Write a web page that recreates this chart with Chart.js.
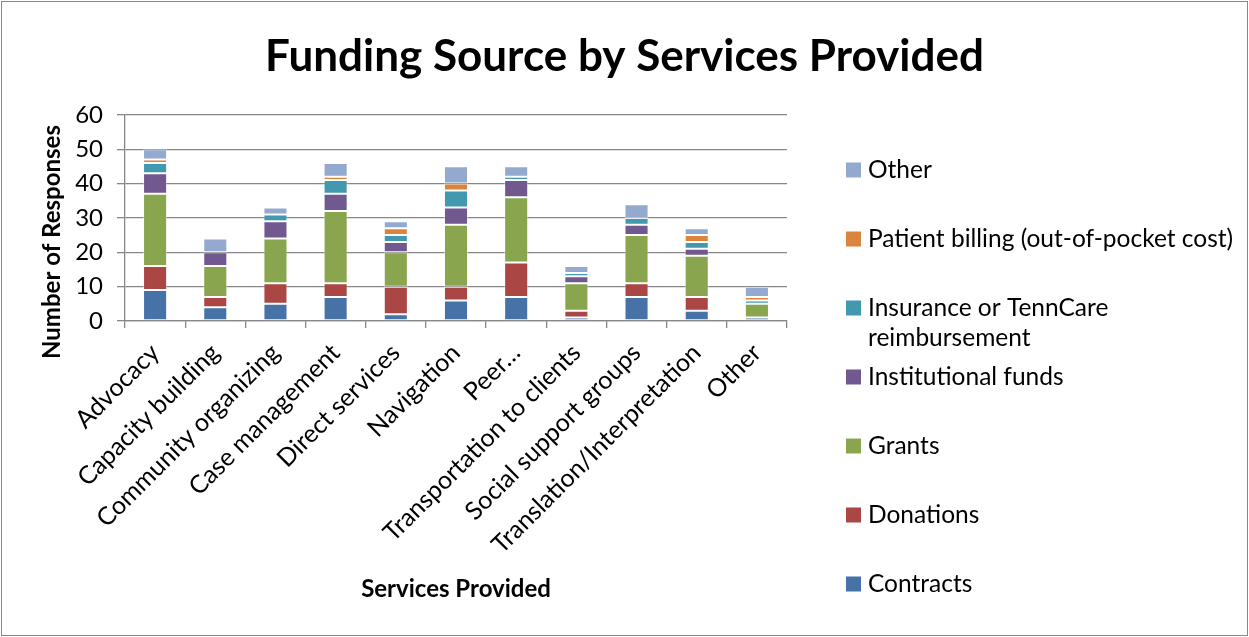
<!DOCTYPE html>
<html>
<head>
<meta charset="utf-8">
<script src="https://cdn.jsdelivr.net/npm/chart.js@4.4.1/dist/chart.umd.min.js"></script>
<style>
  html, body { margin: 0; padding: 0; background: #fff; }
  #wrap { width: 1249px; height: 637px; position: relative; }
  canvas { display: block; }
</style>
</head>
<body>
<div id="wrap"><canvas id="chart" width="1249" height="637"></canvas></div>
<script>
// Services (x categories)
const services = [
  'Advocacy', 'Capacity building', 'Community organizing', 'Case management',
  'Direct services', 'Navigation', 'Peer\u2026', 'Transportation to clients',
  'Social support groups', 'Translation/Interpretation', 'Other'
];

// Number of responses per funding source, stacked bottom to top
const contracts      = [9, 4, 5, 7, 2, 6, 7, 1, 7, 3, 1];
const donations      = [7, 3, 6, 4, 8, 4, 10, 2, 4, 4, 0];
const grants         = [21, 9, 13, 21, 10, 18, 19, 8, 14, 12, 4];
const institutional  = [6, 4, 5, 5, 3, 5, 5, 2, 3, 2, 0];
const insurance      = [3, 0, 2, 4, 2, 5, 1, 1, 2, 2, 1];
const patientBilling = [1, 0, 0, 1, 2, 2, 0, 0, 0, 2, 1];
const otherFunding   = [3, 4, 2, 4, 2, 5, 3, 2, 4, 2, 3];

// Y axis range
const yMin = 0, yMax = 60, yStep = 10;

const FONT = 'Lato, "Open Sans", sans-serif';
const GRID = '#878787';
const yTitleText = 'Number of Responses';

const series = [
  { label: 'Contracts', data: contracts, color: '#4672A8' },
  { label: 'Donations', data: donations, color: '#AA4643' },
  { label: 'Grants', data: grants, color: '#89A54E' },
  { label: 'Institutional funds', data: institutional, color: '#71588F' },
  { label: 'Insurance or TennCare reimbursement', data: insurance, color: '#4198AF' },
  { label: 'Patient billing (out-of-pocket cost)', data: patientBilling, color: '#DB843D' },
  { label: 'Other', data: otherFunding, color: '#93A9CF' }
];

// Page background and outer frame
const frame = {
  id: 'frame',
  beforeDraw(chart) {
    const { ctx, width, height } = chart;
    ctx.save();
    ctx.fillStyle = '#fff';
    ctx.fillRect(0, 0, width, height);
    ctx.strokeStyle = '#888';
    ctx.lineWidth = 1;
    ctx.strokeRect(1.5, 1.5, width - 3, height - 3);
    ctx.restore();
  }
};

// Rotated y axis title, centred a little below the plot's middle
const yTitle = {
  id: 'yTitle',
  afterDraw(chart) {
    const { ctx } = chart;
    ctx.save();
    ctx.translate(52, 242);
    ctx.rotate(-Math.PI / 2);
    ctx.font = `bold 24px ${FONT}`;
    ctx.fillStyle = '#000';
    ctx.textAlign = 'center';
    ctx.textBaseline = 'middle';
    ctx.fillText(yTitleText, 0, 0);
    ctx.restore();
  }
};

// Vertical legend on the right, top item = last stacked series
const legendBox = { markerX: 846, textX: 868, firstY: 170, step: 69, size: 15, lineGap: 30, fontSize: 24.5 };
const sideLegend = {
  id: 'sideLegend',
  afterDraw(chart) {
    const { ctx } = chart;
    const L = legendBox;
    const maxW = chart.width - L.textX - 4;
    ctx.save();
    ctx.font = `${L.fontSize}px ${FONT}`;
    ctx.textBaseline = 'middle';
    ctx.textAlign = 'left';
    const items = chart.data.datasets.slice().reverse();
    items.forEach((ds, i) => {
      const cy = L.firstY + i * L.step;
      ctx.fillStyle = ds.backgroundColor;
      ctx.fillRect(L.markerX, cy - L.size / 2, L.size, L.size);
      // word wrap
      const words = ds.label.split(' ');
      const lines = [];
      let cur = '';
      words.forEach(w => {
        const t = cur ? cur + ' ' + w : w;
        if (ctx.measureText(t).width > maxW && cur) { lines.push(cur); cur = w; }
        else cur = t;
      });
      lines.push(cur);
      ctx.fillStyle = '#000';
      lines.forEach((ln, k) => ctx.fillText(ln, L.textX, cy + k * L.lineGap));
    });
    ctx.restore();
  }
};

new Chart(document.getElementById('chart'), {
  type: 'bar',
  data: {
    labels: services,
    datasets: series.map(s => ({
      label: s.label,
      data: s.data,
      backgroundColor: s.color,
      borderColor: 'rgba(255,255,255,0.45)',
      borderWidth: 1,
      borderSkipped: false,
      categoryPercentage: 1,
      barPercentage: 0.4
    }))
  },
  options: {
    responsive: false,
    animation: false,
    devicePixelRatio: 1,
    layout: { padding: { left: 0, right: 0, top: 0, bottom: 0 } },
    plugins: {
      legend: { display: false },
      tooltip: { enabled: false },
      title: {
        display: true,
        text: 'Funding Source by Services Provided',
        color: '#000',
        font: { family: FONT, size: 44, weight: 'bold', lineHeight: 1.2 },
        padding: { top: 30, bottom: 32 }
      }
    },
    scales: {
      x: {
        stacked: true,
        grid: { display: true, drawOnChartArea: false, drawTicks: true, tickLength: 7, color: GRID, lineWidth: 1.3, offset: true },
        border: { display: true, color: GRID, width: 1.3 },
        ticks: {
          color: '#000', font: { family: FONT, size: 25 },
          minRotation: 45, maxRotation: 45, autoSkip: false, padding: 10
        },
        title: {
          display: true, text: 'Services Provided', color: '#000',
          font: { family: FONT, size: 24, weight: 'bold', lineHeight: 1.2 },
          padding: { top: 0, bottom: 33 }
        },
        afterFit(scale) { scale.height = 316; }
      },
      y: {
        stacked: true,
        min: yMin, max: yMax,
        grid: { color: GRID, lineWidth: 1.3, tickLength: 8, drawTicks: true },
        border: { display: true, color: GRID, width: 1.3 },
        ticks: { stepSize: yStep, color: '#000', font: { family: FONT, size: 24 }, padding: 14 },
        afterFit(scale) { scale.width = 125; }
      },
      // reserved space on the right for the legend column
      legendSpace: {
        type: 'linear', position: 'right', display: true,
        grid: { display: false, drawOnChartArea: false, drawTicks: false },
        border: { display: false },
        ticks: { display: false },
        afterFit(scale) { scale.width = 462; }
      }
    }
  },
  plugins: [frame, yTitle, sideLegend]
});
</script>
</body>
</html>
